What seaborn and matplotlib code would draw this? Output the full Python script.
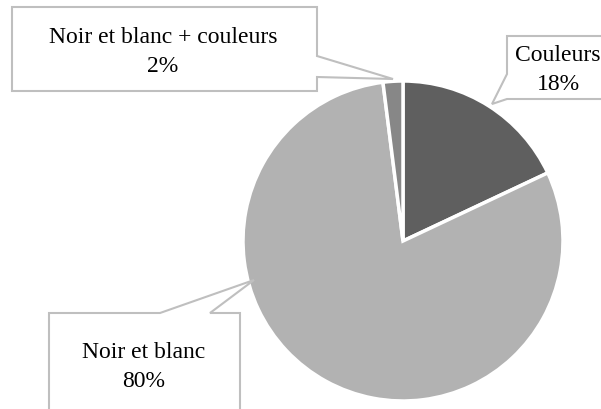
import matplotlib
matplotlib.use("Agg")
import matplotlib.pyplot as plt
from matplotlib.patches import Polygon
import seaborn as sns

# données
categories = ["Couleurs", "Noir et blanc", "Noir et blanc + couleurs"]
valeurs = [18, 80, 2]
couleurs = ["#5f5f5f", "#b2b2b2", "#878787"]

sns.set_theme(style="white")
plt.rcParams["font.family"] = ["Liberation Serif", "DejaVu Serif"]

W, H = 601, 410
fig = plt.figure(figsize=(W / 100, H / 100), dpi=100)
ax = fig.add_axes([0, 0, 1, 1])


def P(x, y):
    # coordonnées pixel (origine en haut à gauche) -> données
    return (x, H - y)


cx, cy = P(403, 242)
ax.pie(valeurs, colors=couleurs, startangle=90, counterclock=False,
       center=(cx, cy), radius=160, frame=True,
       wedgeprops=dict(edgecolor="white", linewidth=2.5))
ax.set_xlim(0, W)
ax.set_ylim(0, H)
ax.set_aspect("equal")
ax.set_axis_off()


### bulle de légende avec pointe
def callout(texte, box, tail, center):
    x0, y0, x1, y1 = box
    pts = []
    corners = [(x0, y0), (x1, y0), (x1, y1), (x0, y1)]
    side, a, b, tip = tail
    # side: 0 haut, 1 droite, 2 bas, 3 gauche
    for i, c in enumerate(corners):
        pts.append(c)
        if i == side:
            if side == 0:
                pts += [(a, y0), tip, (b, y0)]
            elif side == 1:
                pts += [(x1, a), tip, (x1, b)]
            elif side == 2:
                pts += [(b, y1), tip, (a, y1)]
            else:
                pts += [(x0, b), tip, (x0, a)]
    poly = Polygon([P(*p) for p in pts], closed=True, facecolor="white",
                   edgecolor="#bfbfbf", linewidth=1.5, zorder=5)
    ax.add_patch(poly)
    ax.text(*P(*center), texte, ha="center", va="center", fontsize=17,
            color="black", linespacing=1.45, zorder=6)


pct = [f"{v}%" for v in valeurs]
callout(f"{categories[2]}\n{pct[2]}", (12, 8, 317, 92),
        (1, 57, 78, (393, 80)), (163, 52))
callout(f"{categories[0]}\n{pct[0]}", (507, 37, 640, 100),
        (3, 75, 100, (492, 105)), (558, 70))
callout(f"{categories[1]}\n{pct[1]}", (49, 314, 240, 440),
        (0, 160, 210, (254, 281)), (144, 367))

fig.savefig("out.png", dpi=100)
